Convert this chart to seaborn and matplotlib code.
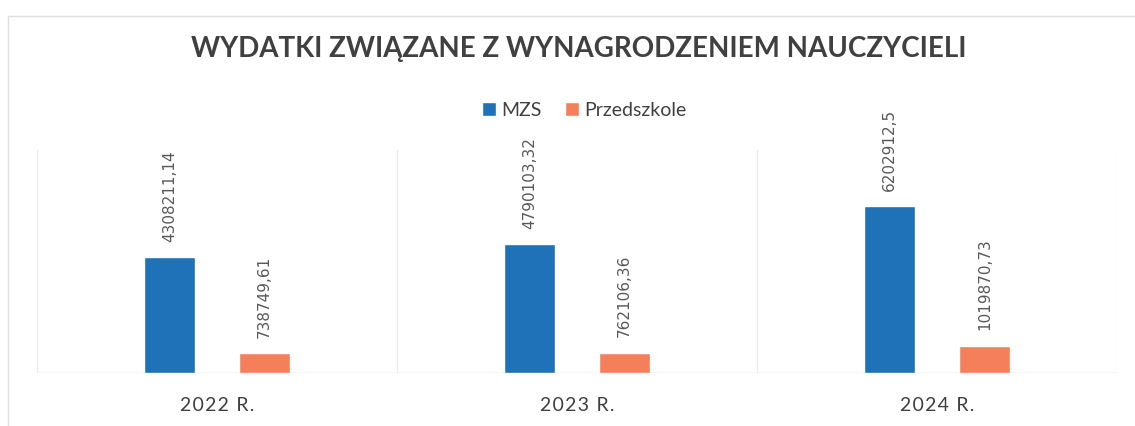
import matplotlib
matplotlib.use('Agg')
import matplotlib.pyplot as plt
from matplotlib.lines import Line2D
import seaborn as sns
import pandas as pd

# ── dane ──────────────────────────────────────────────────────────────────────
lata = ['2022 R.', '2023 R.', '2024 R.']
serie = ['MZS', 'Przedszkole']
mzs = [4308211.14, 4790103.32, 6202912.5]
przedszkole = [738749.61, 762106.36, 1019870.73]
kolory = ['#1f72b8', '#f47f5a']

df = pd.DataFrame({
    'rok': lata * 2,
    'seria': [serie[0]] * 3 + [serie[1]] * 3,
    'wartosc': mzs + przedszkole,
})


def fmt(v):
    s = f'{v:.2f}'.rstrip('0').rstrip('.')
    return s.replace('.', ',')


def rozstrzel(s):
    # rozstrzelony tekst jak w oryginale
    return '\u200a'.join(s)


sns.set_style('white')
plt.rcParams['font.family'] = ['Lato', 'DejaVu Sans']

fig = plt.figure(figsize=(11.35, 4.26), dpi=100)
ax = fig.add_axes([37 / 1135, 1 - 373 / 426, 1080 / 1135, 223 / 426])

sns.barplot(data=df, x='rok', y='wartosc', hue='seria', palette=kolory,
            width=0.53, gap=0.47, saturation=1, ax=ax)

for cont, vals in zip(ax.containers, [mzs, przedszkole]):
    ax.bar_label(cont, labels=[fmt(v) for v in vals], rotation=90, padding=11,
                 fontsize=11, color='#595959', family='DejaVu Sans')

ax.set_xlim(-0.5, 2.5)
ax.set_ylim(0, 8.3e6)
ax.set_xlabel('')
ax.set_ylabel('')
ax.set_yticks([])
ax.set_xticks(range(len(lata)))
ax.set_xticklabels([rozstrzel(l) for l in lata])
for s in ax.spines.values():
    s.set_visible(False)
for x in [-0.5, 0.5, 1.5, 2.5]:
    ax.axvline(x, color='#ebebeb', lw=1, zorder=0)
ax.axhline(0, color='#d9d9d9', lw=1, zorder=0)
ax.tick_params(axis='x', length=0, pad=17, labelsize=14, labelcolor='#404040')

sns.move_legend(ax, 'center', bbox_to_anchor=(0.515, 1 - 110 / 426),
                bbox_transform=fig.transFigure, ncol=2, frameon=False, title=None,
                handlelength=0.7, handleheight=0.7, handletextpad=0.3,
                columnspacing=1.2, fontsize=14)
for t in ax.get_legend().get_texts():
    t.set_color('#404040')

fig.text(0.51, 1 - 49 / 426, 'WYDATKI ZWIĄZANE Z WYNAGRODZENIEM NAUCZYCIELI',
         ha='center', va='center', fontsize=20, fontweight='bold', color='#404040')

# ramka wykresu
fig.add_artist(Line2D([8 / 1135, 1], [1 - 16 / 426] * 2, color='#e0e0e0', lw=1))
fig.add_artist(Line2D([8 / 1135] * 2, [0, 1 - 16 / 426], color='#e0e0e0', lw=1))

plt.savefig('out.png', dpi=100)
plt.close()
print('OK: out.png')
